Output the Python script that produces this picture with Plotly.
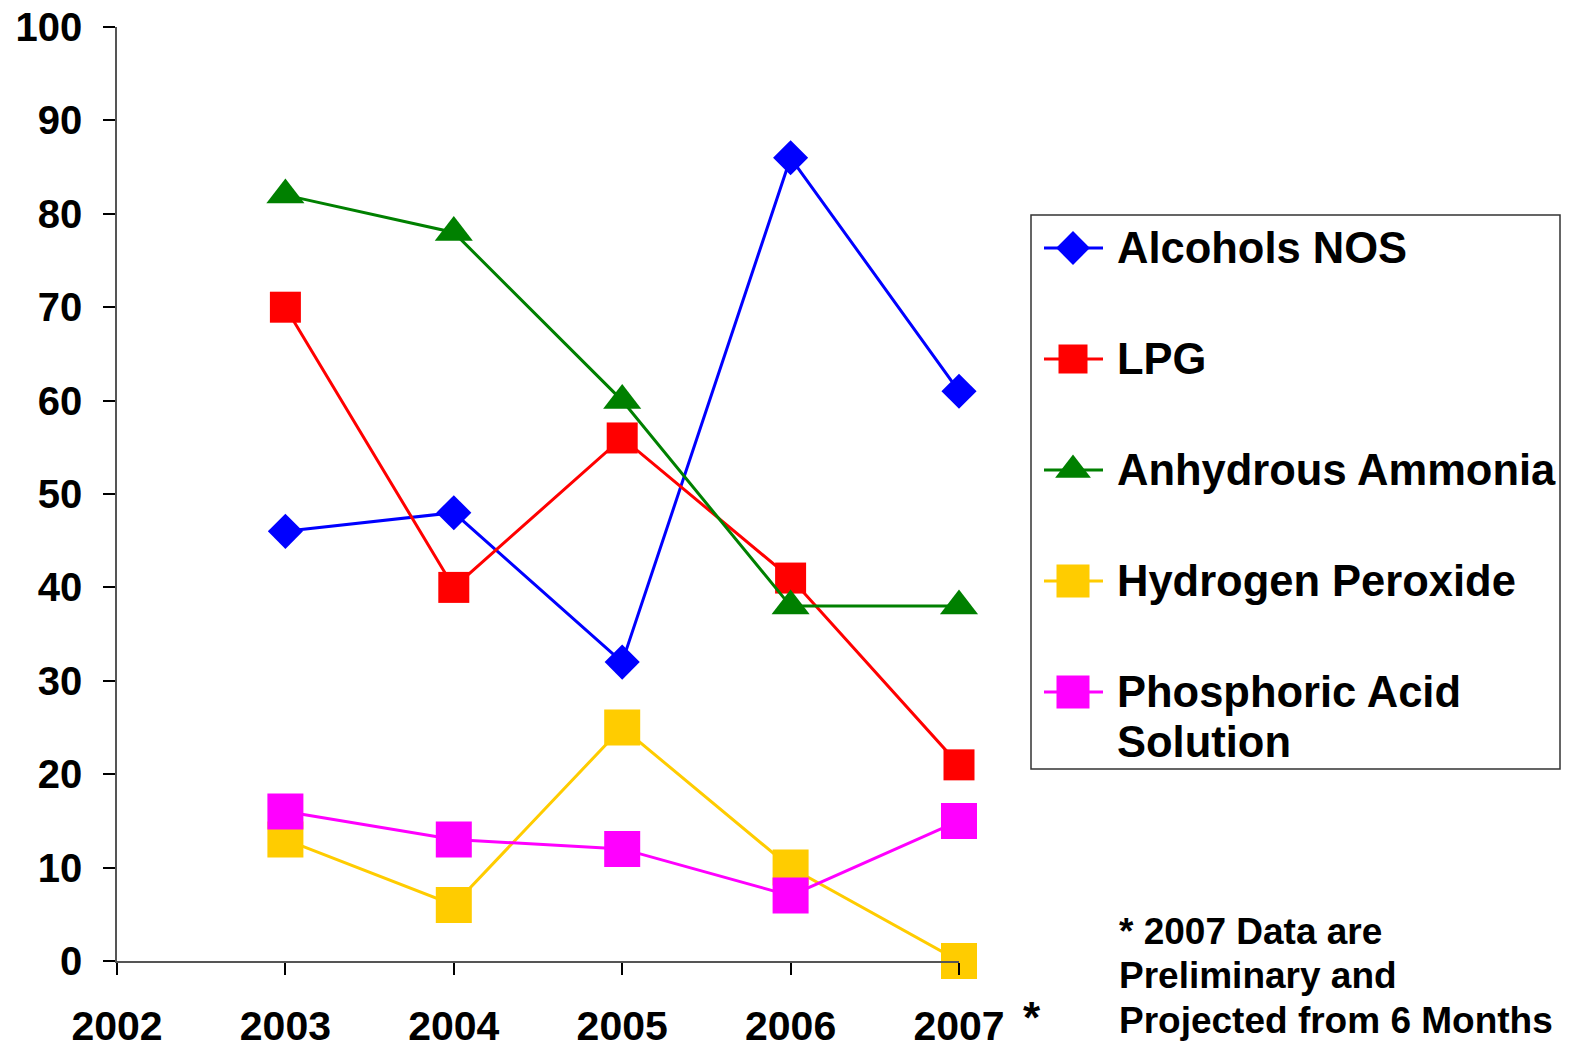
import plotly.graph_objects as go

years = [2003, 2004, 2005, 2006, 2007]
series_names = ["Alcohols NOS", "LPG", "Anhydrous Ammonia", "Hydrogen Peroxide", "Phosphoric Acid Solution"]
alcohols = [46, 48, 32, 86, 61]
lpg = [70, 40, 56, 41, 21]
ammonia = [82, 78, 60, 38, 38]
peroxide = [13, 6, 25, 10, 0]
phosphoric = [16, 13, 12, 7, 15]
x_ticks = [2002, 2003, 2004, 2005, 2006, 2007]
y_ticks = [0, 10, 20, 30, 40, 50, 60, 70, 80, 90, 100]
footnote_lines = ["* 2007 Data are", "Preliminary and", "Projected from 6 Months"]

values = [alcohols, lpg, ammonia, peroxide, phosphoric]
colors = ["#0000FF", "#FF0000", "#008000", "#FFCC00", "#FF00FF"]
symbols = ["diamond", "square", "triangle-up", "square", "square"]
sizes = [27, 31, 33, 36, 36]

FONT = "Liberation Sans, Arial, sans-serif"

OFF = 8  # default page body margin
W, H = 1574 - OFF, 1050 - OFF
ml, mt = 117 - OFF, 27 - OFF
plot_bottom = 961 - OFF
mb = H - plot_bottom
mr = 4
pw = W - ml - mr
ph = H - mt - mb
main_right = (959 - 117) / pw


def px(x):  # page pixel -> paper x
    return (x - OFF - ml) / pw


def py(y):  # page pixel -> paper y
    return (plot_bottom - (y - OFF)) / ph


fig = go.Figure()
for name, vals, c, s, sz in zip(series_names, values, colors, symbols, sizes):
    fig.add_trace(go.Scatter(
        x=years, y=vals, name=name, mode="lines+markers",
        line=dict(color=c, width=3),
        marker=dict(symbol=s, size=sz, color=c, line=dict(width=0)),
        cliponaxis=False, showlegend=False,
        xaxis="x", yaxis="y",
    ))

# Custom legend drawn in an overlay axis whose units are page pixels
legend_rows = [248, 359, 470, 581, 692]
legend_labels = [["Alcohols NOS"], ["LPG"], ["Anhydrous Ammonia"], ["Hydrogen Peroxide"], ["Phosphoric Acid", "Solution"]]
legend_sizes = [26, 29, 31, 33, 33]
for i, (c, s, sz) in enumerate(zip(colors, symbols, legend_sizes)):
    yy = legend_rows[i]
    fig.add_trace(go.Scatter(
        x=[1044, 1103], y=[yy, yy], mode="lines",
        line=dict(color=c, width=3), showlegend=False,
        xaxis="x2", yaxis="y2", hoverinfo="skip", cliponaxis=False,
    ))
    fig.add_trace(go.Scatter(
        x=[1073], y=[yy], mode="markers",
        marker=dict(symbol=s, size=sz, color=c, line=dict(width=0)),
        showlegend=False, xaxis="x2", yaxis="y2", hoverinfo="skip", cliponaxis=False,
    ))
    for j, txt in enumerate(legend_labels[i]):
        fig.add_annotation(
            x=px(1115), y=py(yy + j * 50), xref="paper", yref="paper", text=txt,
            showarrow=False, xanchor="left", yanchor="middle",
            font=dict(family=FONT, size=43.5, color="black", weight="bold"),
        )

fig.add_shape(type="rect", xref="paper", yref="paper",
              x0=px(1031), x1=px(1560), y0=py(769), y1=py(215),
              line=dict(color="#333333", width=1.5), fillcolor="rgba(0,0,0,0)")

for k, line in enumerate(footnote_lines):
    fig.add_annotation(
        x=px(1117), y=py(931 + k * 44.5), xref="paper", yref="paper",
        text=line, showarrow=False, xanchor="left", yanchor="middle", align="left",
        font=dict(family=FONT, size=37, color="black", weight="bold"),
    )
fig.add_annotation(
    x=px(1032), y=py(1017), xref="paper", yref="paper", text="*",
    showarrow=False, xanchor="center", yanchor="middle",
    font=dict(family=FONT, size=44, color="black", weight="bold"),
)

fig.update_layout(
    width=W, height=H,
    margin=dict(l=ml, r=mr, t=mt, b=mb, autoexpand=False),
    paper_bgcolor="white", plot_bgcolor="rgba(0,0,0,0)",
    font=dict(family=FONT, color="black"),
    xaxis=dict(
        domain=[0, main_right], range=[2002, 2007],
        tickmode="array", tickvals=x_ticks, ticktext=[str(v) for v in x_ticks],
        ticks="outside", ticklen=12, tickwidth=1.5, tickcolor="black",
        showline=True, linecolor="#555555", linewidth=1.5, showgrid=False, zeroline=False,
        tickfont=dict(family=FONT, size=41, color="black", weight="bold"),
        ticklabelstandoff=16, anchor="y", automargin=False, ticklabeloverflow="allow",
    ),
    yaxis=dict(
        domain=[0, 1], range=[0, 100],
        tickmode="array", tickvals=y_ticks,
        ticks="outside", ticklen=12, tickwidth=1.5, tickcolor="black",
        showline=True, linecolor="#555555", linewidth=1.5, showgrid=False, zeroline=False,
        tickfont=dict(family=FONT, size=40, color="black", weight="bold"),
        ticklabelstandoff=13, anchor="x", automargin=False, ticklabeloverflow="allow",
    ),
    xaxis2=dict(domain=[0, 1], range=[ml + OFF, W - mr + OFF], visible=False, anchor="y2",
                fixedrange=True, automargin=False),
    yaxis2=dict(domain=[0, 1], range=[H - mb + OFF, mt + OFF], visible=False, anchor="x2",
                fixedrange=True, automargin=False),
)

fig.write_html("out.html")
